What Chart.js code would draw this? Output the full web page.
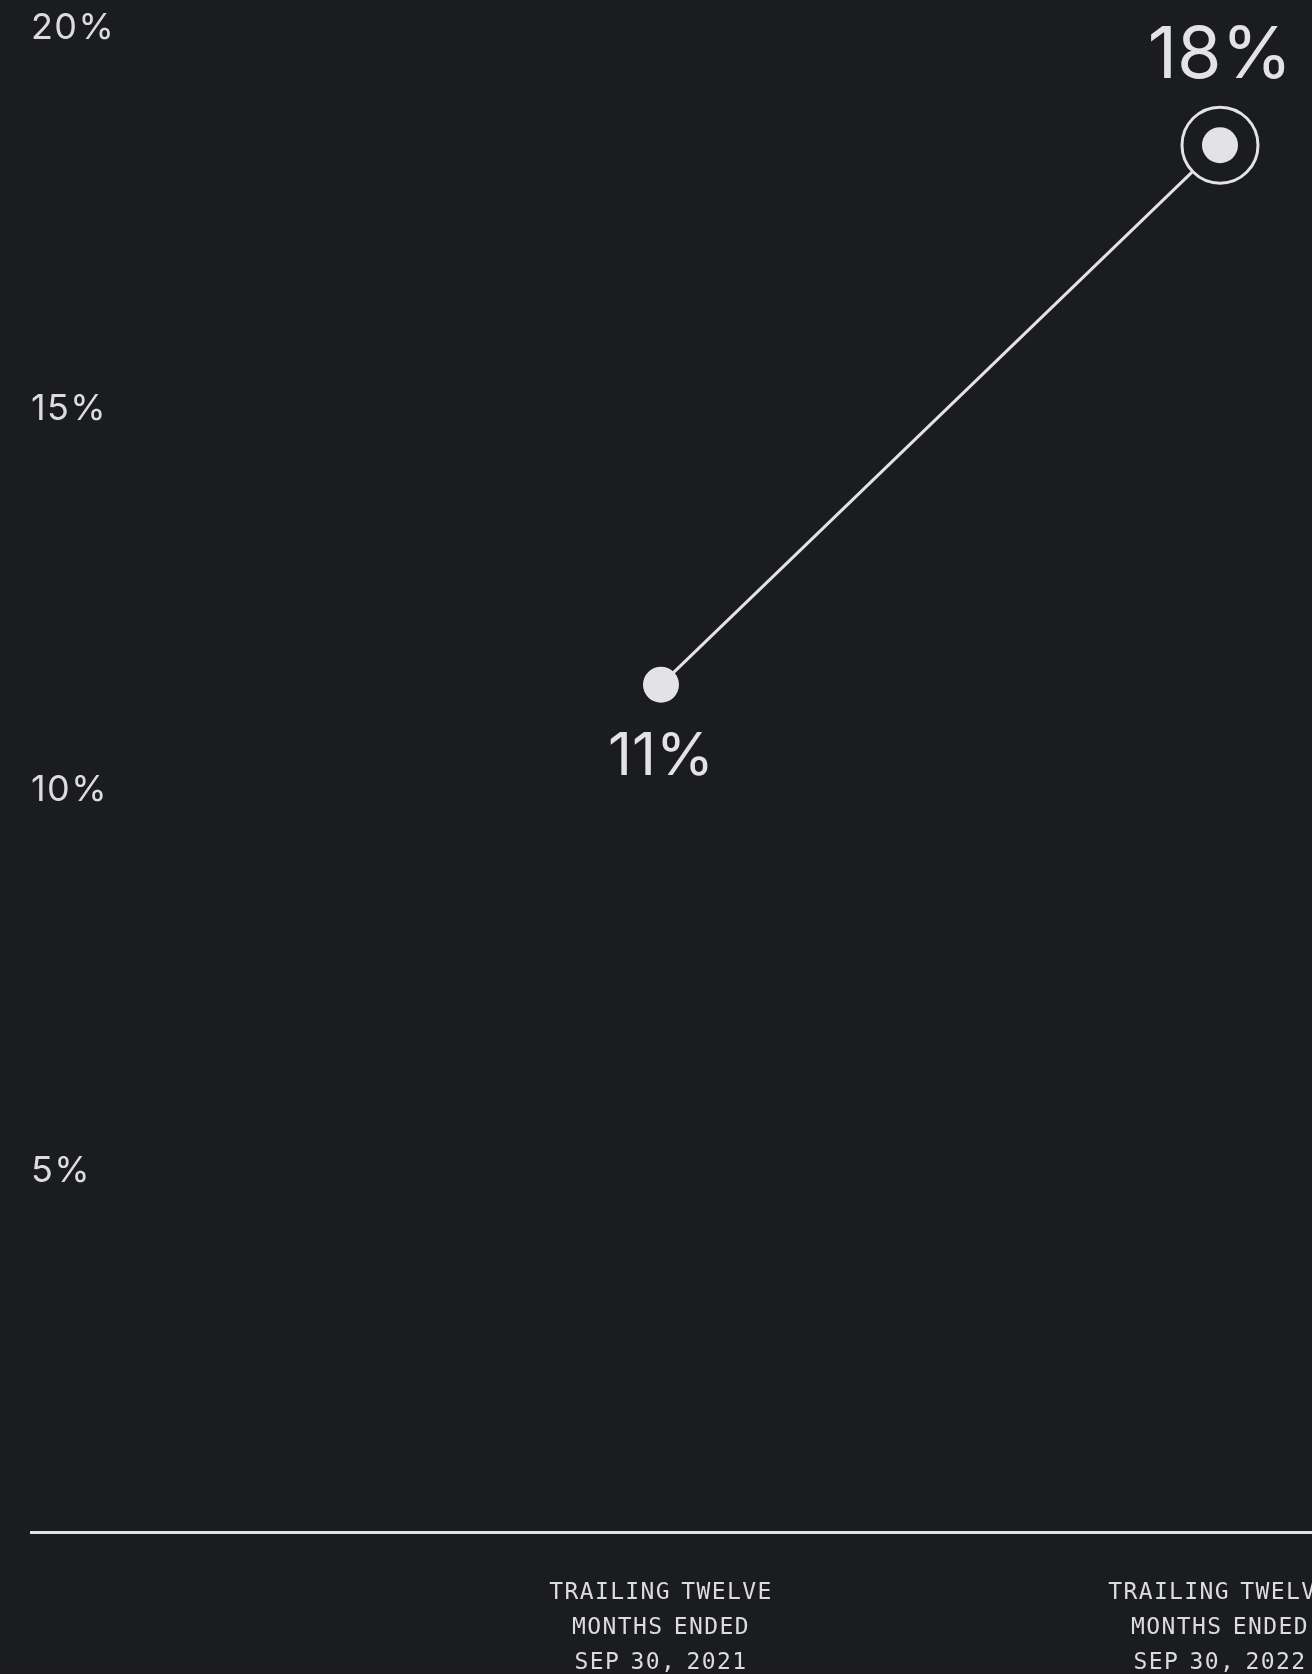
<!DOCTYPE html>
<html>
<head>
<meta charset="utf-8">
<script src="https://cdn.jsdelivr.net/npm/chart.js@4.4.1/dist/chart.umd.min.js"></script>
<style>
  html, body { margin: 0; padding: 0; background: #1b1c1f; overflow: hidden; }
  #wrap { width: 1312px; height: 1674px; position: relative; }
  canvas { display: block; }
</style>
</head>
<body>
<div id="wrap"><canvas id="c" width="1312" height="1674"></canvas></div>
<script>
// ---- data ----
const categories = [
  ['TRAILING TWELVE', 'MONTHS ENDED', 'SEP 30, 2021'],
  ['TRAILING TWELVE', 'MONTHS ENDED', 'SEP 30, 2022']
];
const values = [11.12, 18.2];
const valueLabels = ['11%', '18%'];
const yTicks = [5, 10, 15, 20];

// ---- style ----
const BG = '#1b1c1f';
const FG = '#e3e3e6';
const TICK = '#dcdce0';

const valueLabelPlugin = {
  id: 'valueLabels',
  beforeDraw(chart) {
    chart.ctx.letterSpacing = '1.4px';   // x-axis labels
    chart.ctx.wordSpacing = '-5px';
  },
  beforeDatasetsDraw(chart) {
    chart.ctx.letterSpacing = '-2px';    // y-axis labels (drawn after datasets)
    chart.ctx.wordSpacing = '0px';
  },
  afterDatasetsDraw(chart) {
    const ctx = chart.ctx;
    const meta = chart.getDatasetMeta(0);
    ctx.save();
    ctx.letterSpacing = '0px';
    ctx.fillStyle = FG;
    ctx.textAlign = 'center';
    ctx.textBaseline = 'alphabetic';
    meta.data.forEach((pt, i) => {
      const last = i === meta.data.length - 1;
      if (last) {
        ctx.font = '400 72px Inter';
        ctx.fillText(valueLabels[i], pt.x, pt.y - 67);
      } else {
        ctx.font = '400 59px Inter';
        ctx.fillText(valueLabels[i], pt.x, pt.y + 90);
      }
    });
    ctx.restore();
  }
};

const pts = values.map((v, i) => ({ x: i, y: v }));
const lastIdx = values.length - 1;

new Chart(document.getElementById('c'), {
  type: 'line',
  data: {
    datasets: [
      {
        data: pts,
        order: 1,
        clip: false,
        borderColor: FG,
        borderWidth: 3,
        tension: 0,
        pointStyle: 'circle',
        pointRadius: values.map((v, i) => i === lastIdx ? 38 : 18),
        pointBackgroundColor: values.map((v, i) => i === lastIdx ? BG : FG),
        pointBorderColor: FG,
        pointBorderWidth: values.map((v, i) => i === lastIdx ? 3 : 0),
        pointHoverRadius: values.map((v, i) => i === lastIdx ? 38 : 18)
      },
      {
        data: [pts[lastIdx]],
        order: 0,
        clip: false,
        showLine: false,
        pointStyle: 'circle',
        pointRadius: 18,
        pointBackgroundColor: FG,
        pointBorderWidth: 0
      }
    ]
  },
  options: {
    responsive: false,
    devicePixelRatio: 1,
    animation: false,
    events: [],
    layout: { autoPadding: false, padding: { top: 8, left: 0, right: 0, bottom: 0 } },
    plugins: { legend: { display: false }, tooltip: { enabled: false } },
    scales: {
      x: {
        type: 'linear',
        min: -1.127,
        max: 1.1646,
        z: 0,
        grid: { display: false },
        border: { display: true, color: FG, width: 3 },
        afterBuildTicks(scale) {
          scale.ticks = categories.map((c, i) => ({ value: i }));
        },
        afterFit(scale) {
          scale.height = 142;
          scale.paddingLeft = 0;
          scale.paddingRight = 0;
        },
        ticks: {
          autoSkip: false,
          maxRotation: 0,
          minRotation: 0,
          padding: 36,
          color: TICK,
          font: { family: 'DejaVu Sans Mono', size: 23, lineHeight: 35 / 23 },
          callback: (v) => categories[v]
        }
      },
      y: {
        min: 0,
        max: 20,
        z: 1,
        grid: { display: false },
        border: { display: false },
        afterBuildTicks(scale) {
          scale.ticks = [0].concat(yTicks).map(v => ({ value: v }));
        },
        afterFit(scale) {
          scale.width = 31;
          scale.paddingTop = 0;
          scale.paddingBottom = 0;
        },
        ticks: {
          mirror: true,
          padding: 0,
          labelOffset: 20,
          color: TICK,
          font: { family: 'Inter', size: 36, weight: '400' },
          callback: (v) => yTicks.includes(v) ? v + '%' : null
        }
      }
    }
  },
  plugins: [valueLabelPlugin]
});
</script>
</body>
</html>
